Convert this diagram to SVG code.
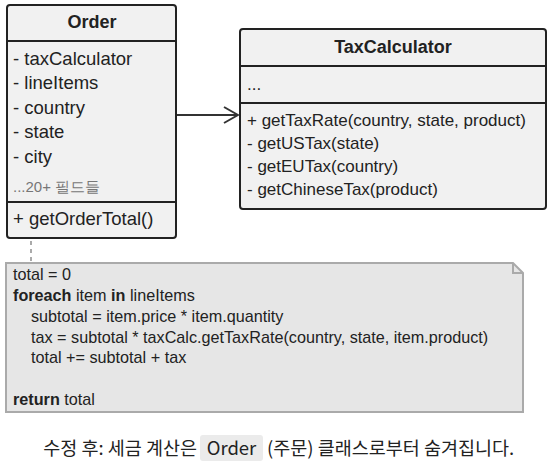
<svg xmlns="http://www.w3.org/2000/svg" width="550" height="462" viewBox="0 0 550 462">
<defs>
<style>
.box{fill:#f1f1f1;stroke:#222;stroke-width:2}
.div{stroke:#222;stroke-width:2}
.t{font-family:"Liberation Sans","Noto Sans",sans-serif;font-size:17px;fill:#222}
.f{font-size:18.5px}
.title{font-weight:bold;text-anchor:middle;font-size:18px}
.gray{fill:#777;font-size:15px}
.code{font-family:"Liberation Sans","Noto Sans",sans-serif;font-size:16.2px;fill:#222}
.b{font-weight:bold}
.cap{font-family:"Noto Sans CJK KR","Noto Sans",sans-serif;font-size:18.5px;fill:#222}
</style>
<marker id="open" markerWidth="16" markerHeight="18" refX="15" refY="9" orient="auto" markerUnits="userSpaceOnUse">
<path d="M1,1 L15,9 L1,17" fill="none" stroke="#333" stroke-width="2"/>
</marker>
</defs>
<rect width="550" height="462" fill="#fff"/>
<g id="connectors">
<line x1="177" y1="115" x2="238" y2="115" stroke="#333" stroke-width="2" marker-end="url(#open)"/>
<line x1="31" y1="241" x2="31" y2="262" stroke="#aaa" stroke-width="2" stroke-dasharray="4 4"/>
</g>
<g id="order">
<rect class="box" x="7" y="5" width="169" height="233" rx="3"/>
<line class="div" x1="7" y1="41" x2="176" y2="41"/>
<line class="div" x1="7" y1="202" x2="176" y2="202"/>
<text class="t title" x="92" y="28">Order</text>
<text class="t f" x="13" y="65">- taxCalculator</text>
<text class="t f" x="13" y="89">- lineItems</text>
<text class="t f" x="13" y="114">- country</text>
<text class="t f" x="13" y="138">- state</text>
<text class="t f" x="13" y="163">- city</text>
<text class="t gray" x="13" y="192">...20+ 필드들</text>
<text class="t f" x="13" y="225">+ getOrderTotal()</text>
</g>
<g id="taxcalculator">
<rect class="box" x="240" y="29" width="306" height="180" rx="3"/>
<line class="div" x1="240" y1="66" x2="546" y2="66"/>
<line class="div" x1="240" y1="103" x2="546" y2="103"/>
<text class="t title" x="393" y="53">TaxCalculator</text>
<text class="t" x="247" y="90">...</text>
<text class="t" x="247" y="126">+ getTaxRate(country, state, product)</text>
<text class="t" x="247" y="149">- getUSTax(state)</text>
<text class="t" x="247" y="172">- getEUTax(country)</text>
<text class="t" x="247" y="195">- getChineseTax(product)</text>
</g>
<g id="note">
<path d="M6,263 H513 L523,273 V412 H6 Z" fill="#e6e6e6" stroke="#aaa" stroke-width="2"/>
<path d="M513,263 V273 H523" fill="none" stroke="#aaa" stroke-width="2"/>
<text class="code" x="13" y="280">total = 0</text>
<text class="code" x="13" y="301"><tspan class="b">foreach</tspan> item <tspan class="b">in</tspan> lineItems</text>
<text class="code" x="31" y="322">subtotal = item.price * item.quantity</text>
<text class="code" x="31" y="343">tax = subtotal * taxCalc.getTaxRate(country, state, item.product)</text>
<text class="code" x="31" y="363">total += subtotal + tax</text>
<text class="code" x="13" y="405"><tspan class="b">return</tspan> total</text>
</g>
<g id="caption">
<rect x="200" y="435" width="63" height="26" rx="3" fill="#ebebeb"/>
<text class="cap" x="197" y="455" text-anchor="end">수정 후: 세금 계산은</text>
<text class="cap" x="231.5" y="455" text-anchor="middle">Order</text>
<text class="cap" x="267" y="455">(주문) 클래스로부터 숨겨집니다.</text>
</g>
</svg>
